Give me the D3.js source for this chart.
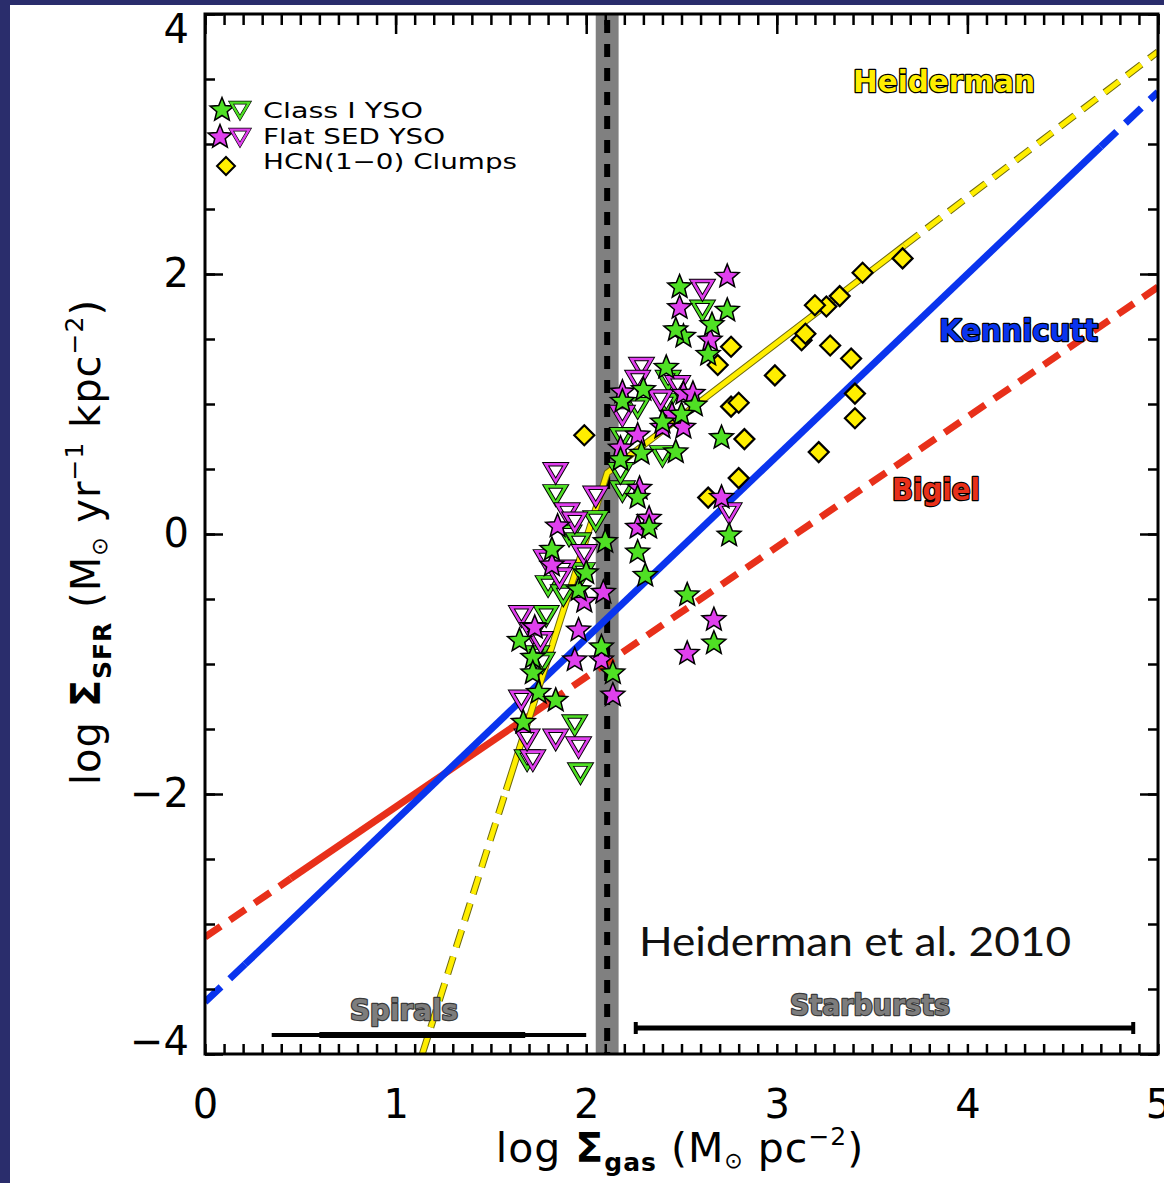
<!DOCTYPE html>
<html>
<head>
<meta charset="utf-8">
<script src="https://cdnjs.cloudflare.com/ajax/libs/d3/7.8.5/d3.min.js"></script>
<style>
  html, body { margin: 0; padding: 0; background: #2a2d6c; }
  svg { display: block; }
</style>
</head>
<body>
<svg id="chart" width="1164" height="1183"></svg>
<script>
// ---------------- data ----------------
const xTickValues = [0, 1, 2, 3, 4, 5];
const xTickLabels = ["0", "1", "2", "3", "4", "5"];
const yTickValues = [-4, -2, 0, 2, 4];
const yTickLabels = ["−4", "−2", "0", "2", "4"];

// Class I YSOs: detections (stars) and upper limits (triangles)
const classIStars = [
  [1.65,-0.82],[1.72,-0.95],[1.72,-1.07],[1.75,-1.22],[1.84,-1.28],[1.67,-1.45],
  [1.82,-0.12],[2.10,-0.06],[1.96,-0.43],[2.00,-0.30],[2.08,-0.87],[2.14,-1.07],
  [2.27,0.28],[2.33,0.05],[2.27,-0.14],[2.31,-0.32],[2.75,-0.01],[2.53,-0.47],
  [2.67,-0.84],[2.18,0.57],[2.19,1.02],[2.30,1.11],[2.57,0.99],[2.50,0.92],
  [2.40,0.86],[2.29,0.62],[2.47,0.63],[2.71,0.74],[2.42,1.28],[2.51,1.52],
  [2.47,1.57],[2.49,1.90],[2.74,1.72],[2.66,1.61],[2.64,1.38]
];
const classILimits = [
  [1.84,0.32],[2.05,0.12],[1.91,0.01],[1.96,-0.05],[1.80,-0.38],[1.88,-0.45],
  [1.98,-0.28],[1.79,-0.61],[1.74,-0.92],[1.77,-0.97],[1.94,-1.45],[1.69,-1.72],
  [1.97,-1.82],[2.19,0.35],[2.18,0.49],[2.43,1.20],[2.42,1.02],[2.27,0.99],
  [2.19,0.76],[2.40,0.62],[2.61,1.74]
];
// Flat SED YSOs
const flatStars = [
  [1.85,0.06],[1.82,-0.24],[1.99,-0.52],[2.09,-0.45],[1.96,-0.74],[1.73,-0.72],
  [1.94,-0.97],[2.08,-0.97],[2.14,-1.24],[2.28,0.35],[2.27,0.05],[2.33,0.12],
  [2.71,0.28],[2.67,-0.66],[2.53,-0.92],[2.19,1.09],[2.51,1.08],[2.56,1.08],
  [2.45,0.92],[2.51,0.82],[2.40,0.82],[2.27,0.76],[2.18,0.66],[2.74,1.98],
  [2.49,1.74],[2.65,1.49]
];
const flatLimits = [
  [1.84,0.49],[2.05,0.31],[1.90,0.18],[1.94,0.11],[1.99,-0.14],[1.79,-0.18],
  [1.88,-0.26],[1.86,-0.32],[1.66,-0.61],[1.72,-0.74],[1.76,-0.81],[1.66,-1.26],
  [1.84,-1.56],[1.96,-1.62],[1.72,-1.72],[1.69,-1.56],[2.75,0.18],[2.29,1.30],
  [2.27,1.20],[2.48,1.16],[2.39,1.05],[2.19,0.93],[2.61,1.90]
];
// HCN(1-0) dense clumps
const hcnClumps = [
  [1.99,0.76],[3.66,2.12],[3.45,2.01],[3.33,1.83],[3.26,1.75],[3.20,1.76],
  [3.13,1.49],[3.15,1.54],[3.28,1.45],[3.39,1.35],[2.99,1.22],[2.76,1.44],
  [2.69,1.30],[3.41,1.08],[3.41,0.89],[2.76,0.98],[2.80,1.01],[2.83,0.73],
  [3.22,0.63],[2.80,0.43],[2.64,0.28]
];

// Star-formation relations: vertices and whether each segment is dashed
const kennicuttX = [0.00, 0.21, 4.70, 5.00];
const kennicuttY = [-3.60, -3.31, 2.98, 3.40];
const kennicuttDashed = [true, false, true];
const bigielX = [0.00, 0.45, 1.80, 5.00];
const bigielY = [-3.10, -2.65, -1.30, 1.90];
const bigielDashed = [true, false, true];
const heidermanX = [1.14, 1.58, 2.11, 3.67, 5.00];
const heidermanY = [-4.00, -1.97, 0.47, 2.22, 3.71];
const heidermanDashed = [true, false, false, true];

// Threshold surface density band and line
const thresholdBand = [2.05, 2.17];
const thresholdValue = 2.11;

// Galaxy regimes along the gas axis
const regimeNames = ["Spirals", "Starbursts"];
const regimeFrom = [0.35, 2.26];
const regimeTo = [2.00, 4.87];
const spiralsCore = [0.60, 1.68];

const legendLabels = ["Class I YSO", "Flat SED YSO", "HCN(1−0) Clumps"];

// ---------------- drawing ----------------
const svg = d3.select("#chart");
const GREEN = "#4fe024", MAGENTA = "#e040ee", YELLOW = "#ffee00";
const BLUE = "#0a34ee", RED = "#e8301a";

// white page panel over the dark backdrop
svg.append("rect").attr("x", 10).attr("y", 5).attr("width", 1154).attr("height", 1178).attr("fill", "#ffffff");

const x = d3.scaleLinear().domain([0, 5]).range([205, 1158]);
const y = d3.scaleLinear().domain([-4, 4]).range([1054, 14]);

svg.append("defs").append("clipPath").attr("id", "plotclip")
  .append("rect").attr("x", x(0)).attr("y", y(4))
  .attr("width", x(5) - x(0)).attr("height", y(-4) - y(4));

const plot = svg.append("g").attr("clip-path", "url(#plotclip)");

// threshold band
plot.append("rect")
  .attr("x", x(thresholdBand[0])).attr("y", y(4))
  .attr("width", x(thresholdBand[1]) - x(thresholdBand[0]))
  .attr("height", y(-4) - y(4))
  .attr("fill", "#808080");
plot.append("line")
  .attr("x1", x(thresholdValue)).attr("x2", x(thresholdValue))
  .attr("y1", y(4) + 6).attr("y2", y(-4))
  .attr("stroke", "#000").attr("stroke-width", 6)
  .attr("stroke-dasharray", "13,11");

// relation lines, grouped into runs of equal style
const lineGen = d3.line().x(d => x(d[0])).y(d => y(d[1]));
function runs(xs, ys, dashed) {
  const out = [];
  let cur = null;
  for (let i = 0; i < dashed.length; i++) {
    if (!cur || cur.dashed !== dashed[i]) {
      cur = { dashed: dashed[i], pts: [[xs[i], ys[i]]] };
      out.push(cur);
    }
    cur.pts.push([xs[i + 1], ys[i + 1]]);
  }
  return out;
}
function drawRelation(xs, ys, dashed, color, width, dash, outline) {
  const g = plot.append("g");
  runs(xs, ys, dashed).forEach(r => {
    if (outline) {
      g.append("path").attr("d", lineGen(r.pts)).attr("fill", "none")
        .attr("stroke", outline).attr("stroke-width", width + 2)
        .attr("stroke-dasharray", r.dashed ? dash : null);
    }
    g.append("path").attr("d", lineGen(r.pts)).attr("fill", "none")
      .attr("stroke", color).attr("stroke-width", width)
      .attr("stroke-dasharray", r.dashed ? dash : null);
  });
}
drawRelation(bigielX, bigielY, bigielDashed, RED, 7, "19,11");
drawRelation(kennicuttX, kennicuttY, kennicuttDashed, BLUE, 7, "22,12");
drawRelation(heidermanX, heidermanY, heidermanDashed, YELLOW, 5, "18,10", "#6f6a10");

// marker shapes
function starPath(R, ratio) {
  const p = [];
  for (let i = 0; i < 10; i++) {
    const a = -Math.PI / 2 + i * Math.PI / 5;
    const r = i % 2 ? R * ratio : R;
    p.push([(r * Math.cos(a)).toFixed(2), (r * Math.sin(a)).toFixed(2)]);
  }
  return "M" + p.join("L") + "Z";
}
const STAR = starPath(12.5, 0.44);
const TRI = "M-10,-6L10,-6L0,11Z";
const DIAMOND = "M0,-10L10,0L0,10L-10,0Z";

function drawDiamonds(g, pts) {
  g.selectAll(null).data(pts).enter().append("path")
    .attr("d", DIAMOND)
    .attr("transform", d => `translate(${x(d[0])},${y(d[1])})`)
    .attr("fill", YELLOW).attr("stroke", "#000").attr("stroke-width", 2.2);
}
function drawLimits(g, pts, color) {
  const s = g.selectAll(null).data(pts).enter().append("g")
    .attr("transform", d => `translate(${x(d[0])},${y(d[1])})`);
  s.append("path").attr("d", TRI).attr("fill", "#fff")
    .attr("stroke", "#000").attr("stroke-width", 4.5).attr("stroke-linejoin", "miter");
  s.append("path").attr("d", TRI).attr("fill", "none")
    .attr("stroke", color).attr("stroke-width", 2.6).attr("stroke-linejoin", "miter");
}
function drawStars(g, pts, color) {
  g.selectAll(null).data(pts).enter().append("path")
    .attr("d", STAR)
    .attr("transform", d => `translate(${x(d[0])},${y(d[1])})`)
    .attr("fill", color).attr("stroke", "#000").attr("stroke-width", 1.5)
    .attr("stroke-linejoin", "miter");
}

const marks = plot.append("g");
drawDiamonds(marks, hcnClumps);
drawLimits(marks, classILimits, GREEN);
drawLimits(marks, flatLimits, MAGENTA);
drawStars(marks, flatStars, MAGENTA);
drawStars(marks, classIStars, GREEN);

// regime range bars and names
const regimes = svg.append("g");
regimes.append("line")
  .attr("x1", x(regimeFrom[0])).attr("x2", x(regimeTo[0]))
  .attr("y1", 1035).attr("y2", 1035)
  .attr("stroke", "#000").attr("stroke-width", 4);
regimes.append("line")
  .attr("x1", x(spiralsCore[0])).attr("x2", x(spiralsCore[1]))
  .attr("y1", 1035).attr("y2", 1035)
  .attr("stroke", "#000").attr("stroke-width", 6);
regimes.append("line")
  .attr("x1", x(regimeFrom[1])).attr("x2", x(regimeTo[1]))
  .attr("y1", 1028).attr("y2", 1028)
  .attr("stroke", "#000").attr("stroke-width", 5);
[regimeFrom[1], regimeTo[1]].forEach(v => {
  regimes.append("line").attr("x1", x(v)).attr("x2", x(v))
    .attr("y1", 1022).attr("y2", 1034).attr("stroke", "#000").attr("stroke-width", 4);
});

function outlinedLabel(txt, x0, baseline, len, size, fill, stroke, sw) {
  svg.append("text")
    .attr("x", x0).attr("y", baseline)
    .attr("textLength", len).attr("lengthAdjust", "spacingAndGlyphs")
    .attr("font-family", "DejaVu Sans, sans-serif").attr("font-weight", "bold")
    .attr("font-size", size)
    .attr("fill", fill).attr("stroke", stroke).attr("stroke-width", sw)
    .attr("paint-order", "stroke").attr("stroke-linejoin", "round")
    .text(txt);
}
outlinedLabel(regimeNames[0], 350, 1020, 108, 29, "#7d7d7d", "#3a3a3a", 2.5);
outlinedLabel(regimeNames[1], 790, 1015, 160, 29, "#7d7d7d", "#3a3a3a", 2.5);
outlinedLabel("Heiderman", 853, 92, 182, 30, YELLOW, "#000", 2.5);
outlinedLabel("Kennicutt", 939, 341, 159, 30, BLUE, "#000", 2.5);
outlinedLabel("Bigiel", 892, 500, 88, 30, RED, "#000", 2.5);

// citation
svg.append("text")
  .attr("x", 639).attr("y", 956)
  .attr("textLength", 432).attr("lengthAdjust", "spacingAndGlyphs")
  .attr("font-family", "Lato, 'Open Sans', sans-serif")
  .attr("font-size", 41).attr("fill", "#111")
  .text("Heiderman et al. 2010");

// ---------------- axes ----------------
const axisFont = "DejaVu Sans, sans-serif";
function styleAxis(g) {
  g.select(".domain").remove();
  g.selectAll(".tick line").attr("stroke", "#000").attr("stroke-width", 2.5);
  g.attr("font-family", axisFont).attr("font-size", 40);
  g.selectAll(".tick text").attr("fill", "#000");
}
const xMinor = d3.range(0, 51).map(i => i / 10);
const yMinor = d3.range(-8, 9).map(i => i / 2);

// bottom
svg.append("g").attr("transform", `translate(0,${y(-4)})`)
  .call(d3.axisBottom(x).tickValues(xMinor).tickSize(-10).tickFormat(""))
  .call(styleAxis);
svg.append("g").attr("transform", `translate(0,${y(-4)})`)
  .call(d3.axisBottom(x).tickValues(xTickValues).tickSize(0).tickPadding(36)
    .tickFormat((d, i) => xTickLabels[i]))
  .call(styleAxis);
// top
svg.append("g").attr("transform", `translate(0,${y(4)})`)
  .call(d3.axisTop(x).tickValues(xMinor).tickSize(-11).tickFormat(""))
  .call(styleAxis);
svg.append("g").attr("transform", `translate(0,${y(4)})`)
  .call(d3.axisTop(x).tickValues(xTickValues).tickSize(-20).tickFormat(""))
  .call(styleAxis);
// left
svg.append("g").attr("transform", `translate(${x(0)},0)`)
  .call(d3.axisLeft(y).tickValues(yMinor).tickSize(-10).tickFormat(""))
  .call(styleAxis);
const yAxisG = svg.append("g").attr("transform", `translate(${x(0)},0)`)
  .call(d3.axisLeft(y).tickValues(yTickValues).tickSize(-18).tickPadding(16)
    .tickFormat((d, i) => yTickLabels[i]))
  .call(styleAxis);
yAxisG.selectAll(".tick text").filter(d => d === 4).attr("dy", "0.72em");
yAxisG.selectAll(".tick text").filter(d => d === -4).attr("dy", "0em");
// right
svg.append("g").attr("transform", `translate(${x(5)},0)`)
  .call(d3.axisRight(y).tickValues(yMinor).tickSize(-10).tickFormat(""))
  .call(styleAxis);
svg.append("g").attr("transform", `translate(${x(5)},0)`)
  .call(d3.axisRight(y).tickValues(yTickValues).tickSize(-18).tickFormat(""))
  .call(styleAxis);

// frame
svg.append("rect")
  .attr("x", x(0)).attr("y", y(4))
  .attr("width", x(5) - x(0)).attr("height", y(-4) - y(4))
  .attr("fill", "none").attr("stroke", "#000").attr("stroke-width", 3);

// axis titles
const xt = svg.append("text")
  .attr("x", 680).attr("y", 1162).attr("text-anchor", "middle")
  .attr("font-family", axisFont).attr("font-size", 41).attr("fill", "#000")
  .attr("letter-spacing", 1);
xt.append("tspan").text("log  ");
xt.append("tspan").attr("font-weight", "bold").text("Σ");
xt.append("tspan").attr("font-size", 25).attr("font-weight", "bold").attr("dy", 9).text("gas");
xt.append("tspan").attr("dy", -9).text("  (M");
xt.append("tspan").attr("font-size", 22).attr("dy", 6).text("⊙");
xt.append("tspan").attr("dy", -6).text(" pc");
xt.append("tspan").attr("font-size", 25).attr("dy", -17).text("−2");
xt.append("tspan").attr("dy", 17).text(")");

const yt = svg.append("text")
  .attr("transform", "translate(100,542) rotate(-90)")
  .attr("text-anchor", "middle")
  .attr("font-family", axisFont).attr("font-size", 40).attr("fill", "#000")
  .attr("letter-spacing", 1);
yt.append("tspan").text("log ");
yt.append("tspan").attr("font-weight", "bold").text("Σ");
yt.append("tspan").attr("font-size", 25).attr("font-weight", "bold").attr("dy", 11).text("SFR");
yt.append("tspan").attr("dy", -11).text(" (M");
yt.append("tspan").attr("font-size", 22).attr("dy", 7).text("⊙");
yt.append("tspan").attr("dy", -7).text(" yr");
yt.append("tspan").attr("font-size", 25).attr("dy", -17).text("−1");
yt.append("tspan").attr("dy", 17).text(" kpc");
yt.append("tspan").attr("font-size", 25).attr("dy", -17).text("−2");
yt.append("tspan").attr("dy", 17).text(")");

// ---------------- legend ----------------
const legend = svg.append("g");
const legendBase = [118, 144, 169];
const legendLen = [160, 182, 254];
legendLabels.forEach((t, i) => {
  legend.append("text")
    .attr("x", 263).attr("y", legendBase[i])
    .attr("textLength", legendLen[i]).attr("lengthAdjust", "spacingAndGlyphs")
    .attr("font-family", axisFont).attr("font-size", 22).attr("fill", "#000")
    .text(t);
});
function legendStar(cx, cy, color) {
  legend.append("path").attr("d", STAR).attr("transform", `translate(${cx},${cy})`)
    .attr("fill", color).attr("stroke", "#000").attr("stroke-width", 1.5);
}
function legendTri(cx, cy, color) {
  const g = legend.append("g").attr("transform", `translate(${cx},${cy}) scale(0.9)`);
  g.append("path").attr("d", TRI).attr("fill", "#fff").attr("stroke", "#000").attr("stroke-width", 4);
  g.append("path").attr("d", TRI).attr("fill", "none").attr("stroke", color).attr("stroke-width", 2.6);
}
legendStar(222, 110, GREEN);
legendTri(240, 108, GREEN);
legendStar(220, 137, MAGENTA);
legendTri(240, 135, MAGENTA);
legend.append("path").attr("d", DIAMOND).attr("transform", "translate(226,166) scale(0.9)")
  .attr("fill", YELLOW).attr("stroke", "#000").attr("stroke-width", 2.2);
</script>
</body>
</html>
